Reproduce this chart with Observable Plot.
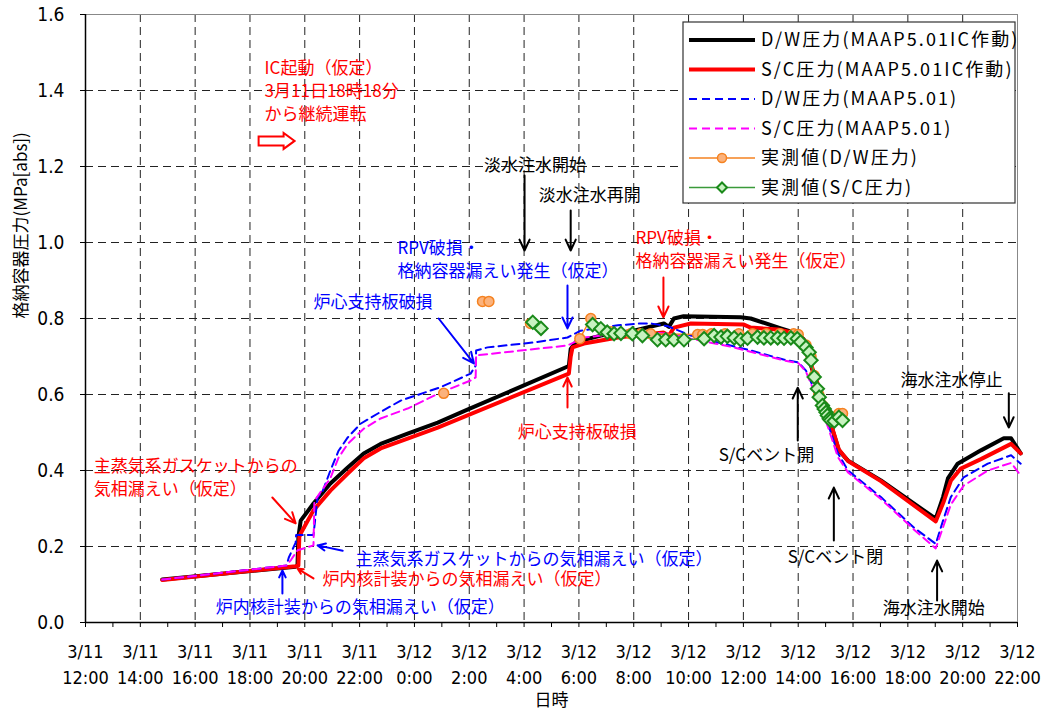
<!DOCTYPE html>
<html><head><meta charset="utf-8">
<script src="https://cdn.jsdelivr.net/npm/d3@7"></script>
<script src="https://cdn.jsdelivr.net/npm/@observablehq/plot@0.6"></script>
<style>
body{margin:0;background:#fff;}
</style></head><body><div id="chart"></div>
<script>
// ---------- data (time "M/D H:MM", pressure MPa[abs]) ----------
const dwIC = [["3/11 14:48",0.113],["3/11 19:40",0.147],["3/11 19:44",0.15],["3/11 19:46",0.225],["3/11 19:51",0.268],["3/11 20:19",0.313],["3/11 20:56",0.366],["3/11 21:34",0.408],["3/11 22:09",0.445],["3/11 22:46",0.47],["3/11 23:45",0.497],["3/12 0:51",0.526],["3/12 1:56",0.56],["3/12 5:38",0.675],["3/12 5:42",0.72],["3/12 5:53",0.738],["3/12 6:48",0.755],["3/12 8:00",0.768],["3/12 9:06",0.787],["3/12 9:17",0.778],["3/12 9:28",0.80],["3/12 9:49",0.806],["3/12 11:54",0.803],["3/12 12:16",0.80],["3/12 13:22",0.774],["3/12 13:59",0.76],["3/12 14:12",0.745],["3/12 14:28",0.676],["3/12 14:49",0.60],["3/12 15:11",0.523],["3/12 15:29",0.453],["3/12 15:49",0.426],["3/12 17:01",0.374],["3/12 19:01",0.273],["3/12 19:17",0.33],["3/12 19:28",0.38],["3/12 19:49",0.418],["3/12 20:40",0.453],["3/12 21:30",0.485],["3/12 21:46",0.485],["3/12 22:07",0.445]];
const scIC = [["3/11 14:48",0.112],["3/11 19:40",0.148],["3/11 19:46",0.15],["3/11 19:48",0.225],["3/11 19:51",0.234],["3/11 20:19",0.295],["3/11 20:56",0.347],["3/11 21:34",0.392],["3/11 22:09",0.432],["3/11 22:46",0.458],["3/11 23:45",0.484],["3/12 0:51",0.513],["3/12 5:38",0.655],["3/12 5:42",0.70],["3/12 5:46",0.724],["3/12 6:11",0.734],["3/12 7:25",0.75],["3/12 9:05",0.763],["3/12 9:17",0.755],["3/12 9:28",0.776],["3/12 10:05",0.787],["3/12 12:01",0.784],["3/12 12:16",0.776],["3/12 13:16",0.771],["3/12 13:59",0.76],["3/12 14:12",0.745],["3/12 14:28",0.68],["3/12 14:49",0.605],["3/12 15:11",0.525],["3/12 15:29",0.455],["3/12 15:49",0.425],["3/12 17:01",0.372],["3/12 19:01",0.266],["3/12 19:19",0.32],["3/12 19:34",0.373],["3/12 19:56",0.405],["3/12 20:40",0.43],["3/12 21:46",0.47],["3/12 22:07",0.445]];
const dwMAAP = [["3/11 14:48",0.113],["3/11 19:20",0.15],["3/11 19:25",0.171],["3/11 19:40",0.21],["3/11 19:41",0.23],["3/11 20:19",0.23],["3/11 20:28",0.33],["3/11 20:39",0.345],["3/11 20:56",0.40],["3/11 21:14",0.452],["3/11 21:34",0.487],["3/11 22:02",0.523],["3/11 22:40",0.55],["3/11 23:30",0.584],["3/12 0:57",0.619],["3/12 2:03",0.655],["3/12 2:14",0.676],["3/12 2:15",0.716],["3/12 2:40",0.724],["3/12 4:21",0.737],["3/12 5:35",0.75],["3/12 6:04",0.768],["3/12 7:25",0.782],["3/12 8:15",0.787],["3/12 8:37",0.787],["3/12 9:14",0.78],["3/12 10:05",0.755],["3/12 11:04",0.737],["3/12 12:16",0.716],["3/12 13:28",0.692],["3/12 14:01",0.684],["3/12 14:17",0.663],["3/12 14:43",0.592],["3/12 15:05",0.523],["3/12 15:27",0.445],["3/12 15:49",0.40],["3/12 17:01",0.33],["3/12 18:13",0.25],["3/12 19:01",0.207],["3/12 19:17",0.268],["3/12 19:34",0.33],["3/12 20:02",0.382],["3/12 20:55",0.418],["3/12 21:46",0.44],["3/12 22:07",0.418]];
const scMAAP = [["3/11 14:48",0.113],["3/11 19:20",0.15],["3/11 19:30",0.165],["3/11 19:44",0.19],["3/11 20:19",0.203],["3/11 20:21",0.32],["3/11 20:56",0.38],["3/11 21:14",0.434],["3/11 21:34",0.47],["3/11 22:09",0.51],["3/11 22:46",0.537],["3/11 23:45",0.563],["3/12 0:57",0.605],["3/12 2:03",0.637],["3/12 2:14",0.645],["3/12 2:15",0.703],["3/12 3:09",0.71],["3/12 5:35",0.729],["3/12 6:11",0.75],["3/12 7:25",0.76],["3/12 8:37",0.763],["3/12 9:21",0.76],["3/12 10:05",0.747],["3/12 11:39",0.724],["3/12 13:28",0.69],["3/12 14:01",0.682],["3/12 14:17",0.66],["3/12 14:43",0.585],["3/12 15:05",0.515],["3/12 15:27",0.435],["3/12 15:49",0.395],["3/12 17:01",0.325],["3/12 18:13",0.245],["3/12 19:01",0.195],["3/12 19:34",0.31],["3/12 20:02",0.36],["3/12 20:55",0.40],["3/12 21:46",0.42],["3/12 22:07",0.387]];
const obsDW = [["3/12 1:04",0.603],["3/12 2:29",0.845],["3/12 2:43",0.845],["3/12 4:14",0.787],["3/12 6:02",0.747],["3/12 6:26",0.80],["3/12 7:10",0.765],["3/12 7:53",0.76],["3/12 8:15",0.76],["3/12 8:37",0.76],["3/12 10:20",0.758],["3/12 10:31",0.758],["3/12 10:50",0.76],["3/12 11:20",0.76],["3/12 11:50",0.76],["3/12 12:20",0.76],["3/12 12:50",0.76],["3/12 13:20",0.76],["3/12 13:50",0.76],["3/12 14:00",0.758],["3/12 14:17",0.73],["3/12 14:28",0.70],["3/12 14:35",0.65],["3/12 14:45",0.60],["3/12 14:54",0.57],["3/12 15:05",0.545],["3/12 15:11",0.535],["3/12 15:29",0.55],["3/12 15:37",0.55]];
const obsSC = [["3/12 4:19",0.79],["3/12 4:37",0.774],["3/12 6:30",0.784],["3/12 6:48",0.773],["3/12 7:02",0.764],["3/12 7:17",0.76],["3/12 7:32",0.761],["3/12 7:57",0.76],["3/12 8:19",0.755],["3/12 8:52",0.744],["3/12 9:10",0.744],["3/12 9:28",0.744],["3/12 9:50",0.744],["3/12 10:34",0.747],["3/12 10:56",0.755],["3/12 11:11",0.751],["3/12 11:25",0.753],["3/12 11:40",0.749],["3/12 11:54",0.744],["3/12 12:09",0.748],["3/12 12:31",0.751],["3/12 12:45",0.749],["3/12 13:00",0.749],["3/12 13:15",0.749],["3/12 13:29",0.748],["3/12 13:44",0.749],["3/12 13:58",0.747],["3/12 14:05",0.738],["3/12 14:17",0.724],["3/12 14:24",0.711],["3/12 14:28",0.69],["3/12 14:35",0.646],["3/12 14:42",0.615],["3/12 14:46",0.593],["3/12 14:53",0.571],["3/12 14:57",0.562],["3/12 15:01",0.553],["3/12 15:04",0.545],["3/12 15:08",0.536],["3/12 15:11",0.532],["3/12 15:19",0.53],["3/12 15:29",0.54],["3/12 15:37",0.532]];
const obsDWLineFrom = "3/12 6:00";
const obsSCLineFrom = "3/12 6:00";

const xTickTimes = ["3/11 12:00","3/11 14:00","3/11 16:00","3/11 18:00","3/11 20:00","3/11 22:00","3/12 0:00","3/12 2:00","3/12 4:00","3/12 6:00","3/12 8:00","3/12 10:00","3/12 12:00","3/12 14:00","3/12 16:00","3/12 18:00","3/12 20:00","3/12 22:00"];
const yTicks = [0, 0.2, 0.4, 0.6, 0.8, 1.0, 1.2, 1.4, 1.6];

const seriesNames = ["D/W圧力(MAAP5.01IC作動)","S/C圧力(MAAP5.01IC作動)","D/W圧力(MAAP5.01)","S/C圧力(MAAP5.01)","実測値(D/W圧力)","実測値(S/C圧力)"];

// annotations: text lines, anchor of first line (time, pressure), colour
const notes = [
  {lines:["IC起動（仮定）","3月11日18時18分","から継続運転"], t:"3/11 18:32", v:1.458, color:"#ff0000"},
  {lines:["淡水注水開始"], t:"3/12 2:32", v:1.203, color:"#000"},
  {lines:["淡水注水再開"], t:"3/12 4:32", v:1.124, color:"#000"},
  {lines:["RPV破損・","格納容器漏えい発生（仮定）"], t:"3/11 23:23", v:0.984, color:"#0000ff"},
  {lines:["炉心支持板破損"], t:"3/11 20:19", v:0.842, color:"#0000ff"},
  {lines:["RPV破損・","格納容器漏えい発生（仮定）"], t:"3/12 8:04", v:1.011, color:"#ff0000"},
  {lines:["炉心支持板破損"], t:"3/12 3:46", v:0.50, color:"#ff0000"},
  {lines:["主蒸気系ガスケットからの","気相漏えい（仮定）"], t:"3/11 12:18", v:0.411, color:"#ff0000"},
  {lines:["主蒸気系ガスケットからの気相漏えい（仮定）"], t:"3/11 21:51", v:0.165, color:"#0000ff"},
  {lines:["炉内核計装からの気相漏えい（仮定）"], t:"3/11 20:39", v:0.112, color:"#ff0000"},
  {lines:["炉内核計装からの気相漏えい（仮定）"], t:"3/11 16:45", v:0.039, color:"#0000ff"},
  {lines:["S/Cベント開"], t:"3/12 11:06", v:0.439, color:"#000"},
  {lines:["S/Cベント閉"], t:"3/12 13:37", v:0.171, color:"#000"},
  {lines:["海水注水停止"], t:"3/12 17:44", v:0.637, color:"#000"},
  {lines:["海水注水開始"], t:"3/12 17:05", v:0.037, color:"#000"}
];
const noteLineStep = 0.06; // pressure units between lines of one note
const arrows = [
  {t1:"3/12 4:01", v1:1.176, t2:"3/12 4:01", v2:0.979, color:"#000"},
  {t1:"3/12 5:42", v1:1.084, t2:"3/12 5:42", v2:0.979, color:"#000"},
  {t1:"3/12 5:35", v1:0.887, t2:"3/12 5:35", v2:0.774, color:"#0000ff"},
  {t1:"3/12 0:53", v1:0.80, t2:"3/12 2:10", v2:0.682, color:"#0000ff"},
  {t1:"3/12 9:05", v1:0.908, t2:"3/12 9:05", v2:0.803, color:"#ff0000"},
  {t1:"3/12 5:35", v1:0.566, t2:"3/12 5:35", v2:0.645, color:"#ff0000"},
  {t1:"3/11 18:49", v1:0.329, t2:"3/11 19:40", v2:0.261, color:"#ff0000"},
  {t1:"3/11 21:23", v1:0.189, t2:"3/11 20:28", v2:0.203, color:"#0000ff"},
  {t1:"3/11 20:19", v1:0.116, t2:"3/11 19:44", v2:0.142, color:"#ff0000"},
  {t1:"3/11 19:11", v1:0.076, t2:"3/11 19:11", v2:0.137, color:"#0000ff"},
  {t1:"3/12 13:59", v1:0.479, t2:"3/12 13:59", v2:0.618, color:"#000"},
  {t1:"3/12 15:18", v1:0.216, t2:"3/12 15:18", v2:0.355, color:"#000"},
  {t1:"3/12 21:41", v1:0.603, t2:"3/12 21:41", v2:0.513, color:"#000"},
  {t1:"3/12 19:04", v1:0.058, t2:"3/12 19:04", v2:0.163, color:"#000"}
];
const icArrow = {t:"3/11 18:20", v:1.266};

// ---------- helpers ----------
function T(s){ const [md,hm]=s.split(" "); const [m,d]=md.split("/"); const [H,M]=hm.split(":"); return new Date(2011,+m-1,+d,+H,+M); }
const rows = a => a.map(([t,v]) => ({t:T(t), v}));
const noteRows = notes.flatMap(n => n.lines.map((s,i) => ({text:s, t:T(n.t), v:n.v - i*noteLineStep, color:n.color})));
const arrowRows = arrows.map(a => ({x1:T(a.t1), y1:a.v1, x2:T(a.t2), y2:a.v2, color:a.color}));
const xTicks = xTickTimes.map(T);
const xTickRows = xTickTimes.map(s => ({t:T(s), date:s.split(" ")[0], time:s.split(" ")[1]}));
const hourTicks = d3.timeHour.range(xTicks[0], d3.timeMinute.offset(xTicks[xTicks.length-1], 1));

const JP = "'Noto Sans CJK JP', sans-serif";
const NUM = "'Liberation Sans Narrow', 'DejaVu Sans Condensed', 'Liberation Sans', sans-serif";

const chart = Plot.plot({
  width: 1043, height: 713,
  marginLeft: 85, marginRight: 26, marginTop: 14, marginBottom: 91,
  style: {fontFamily: JP, fontSize: "17px", color: "#000", background: "#fff"},
  x: {type: "time", domain: [xTicks[0], xTicks[xTicks.length-1]], axis: null},
  y: {domain: [0, 1.6]},
  marks: [
    Plot.gridX(xTicks, {stroke: "#222", strokeOpacity: 1, strokeDasharray: "8,5"}),
    Plot.gridY(yTicks, {stroke: "#222", strokeOpacity: 1, strokeDasharray: "8,5"}),
    Plot.frame({stroke: "#888"}),
    Plot.axisY({ticks: yTicks, tickFormat: d3.format(".1f"), tickSize: 5, tickPadding: 16, fontFamily: NUM, fontSize: 19, label: null}),
    Plot.axisX({ticks: hourTicks, tickFormat: () => "", tickSize: 5, label: null}),
    Plot.text(xTickRows, {x: "t", text: "date", frameAnchor: "bottom", lineAnchor: "middle", dy: 30, fontFamily: NUM, fontSize: 18, fill: "#000"}),
    Plot.text(xTickRows, {x: "t", text: "time", frameAnchor: "bottom", lineAnchor: "middle", dy: 56, fontFamily: NUM, fontSize: 18, fill: "#000"}),
    Plot.ruleY([0], {stroke: "#000", strokeWidth: 1.5}),
    Plot.ruleX([xTicks[0]], {stroke: "#000", strokeWidth: 1.5}),
    Plot.text(["格納容器圧力(MPa[abs])"], {frameAnchor: "left", dx: -64, rotate: -90, fontSize: 17, fill: "#000"}),
    Plot.text(["日時"], {frameAnchor: "bottom", lineAnchor: "middle", dy: 78, fontSize: 17, fill: "#000"}),
    // model series
    Plot.line(rows(dwIC), {x: "t", y: "v", stroke: "#000", strokeWidth: 4}),
    Plot.line(rows(scIC), {x: "t", y: "v", stroke: "#ff0000", strokeWidth: 4}),
    Plot.line(rows(dwMAAP), {x: "t", y: "v", stroke: "#0000ff", strokeWidth: 2, strokeDasharray: "8,5"}),
    Plot.line(rows(scMAAP), {x: "t", y: "v", stroke: "#ff00ff", strokeWidth: 2, strokeDasharray: "8,5"}),
    // observed
    Plot.line(rows(obsDW).filter(d => d.t >= T(obsDWLineFrom)), {x: "t", y: "v", stroke: "#f58220", strokeWidth: 1.5}),
    Plot.dot(rows(obsDW), {x: "t", y: "v", r: 5, fill: "#fbb27c", stroke: "#f58220", strokeWidth: 1.5}),
    Plot.line(rows(obsSC).filter(d => d.t >= T(obsSCLineFrom)), {x: "t", y: "v", stroke: "#3a9a3a", strokeWidth: 1.5}),
    Plot.dot(rows(obsSC), {x: "t", y: "v", symbol: "diamond2", r: 6, fill: "#c8f2c0", stroke: "#1a8a1a", strokeWidth: 2}),
    // annotations
    Plot.arrow(arrowRows, {x1: "x1", y1: "y1", x2: "x2", y2: "y2", stroke: "color", strokeWidth: 2, headLength: 9, headAngle: 50}),
    Plot.text(noteRows, {x: "t", y: "v", text: "text", fill: "color", textAnchor: "start", fontSize: 17})
  ]
});
document.getElementById("chart").append(chart);

// hollow arrow and legend
const sx = chart.scale("x"), sy = chart.scale("y");
const svg = d3.select(chart);
{
  const x0 = sx.apply(T(icArrow.t)), y0 = sy.apply(icArrow.v);
  svg.append("path")
    .attr("d", `M${x0},${y0-4.5}H${x0+25}V${y0-8}L${x0+36},${y0}L${x0+25},${y0+8}V${y0+4.5}H${x0}Z`)
    .attr("fill", "#fff").attr("stroke", "#ff0000").attr("stroke-width", 2);
}
{
  const g = svg.append("g").attr("text-anchor", "start");
  g.append("rect").attr("x", 683).attr("y", 22).attr("width", 332).attr("height", 181)
    .attr("fill", "#fff").attr("stroke", "#333").attr("stroke-width", 1.2);
  const styles = [
    {stroke:"#000", w:4}, {stroke:"#ff0000", w:4},
    {stroke:"#0000ff", w:2, dash:"8,5"}, {stroke:"#ff00ff", w:2, dash:"8,5"},
    {stroke:"#f58220", w:1.5, dot:"circle"}, {stroke:"#3a9a3a", w:1.5, dot:"diamond"}
  ];
  const rowY = [40, 69.5, 99, 128.5, 158, 187.5];
  seriesNames.forEach((name, i) => {
    const s = styles[i], y = rowY[i];
    g.append("line").attr("x1", 689).attr("x2", 755).attr("y1", y).attr("y2", y)
      .attr("stroke", s.stroke).attr("stroke-width", s.w).attr("stroke-dasharray", s.dash || null);
    if (s.dot === "circle") g.append("circle").attr("cx", 722).attr("cy", y).attr("r", 4.5)
      .attr("fill", "#fbb27c").attr("stroke", "#f58220").attr("stroke-width", 1.5);
    if (s.dot === "diamond") g.append("path").attr("d", `M722,${y-5}L727,${y}L722,${y+5}L717,${y}Z`)
      .attr("fill", "#c8f2c0").attr("stroke", "#1a8a1a").attr("stroke-width", 2);
    g.append("text").attr("x", 761).attr("y", y).attr("dy", "0.35em").attr("text-anchor", "start")
      .attr("font-family", JP).attr("font-size", 18).attr("letter-spacing", "2.1px")
      .attr("fill", "#000").text(name);
  });
}
</script></body></html>
